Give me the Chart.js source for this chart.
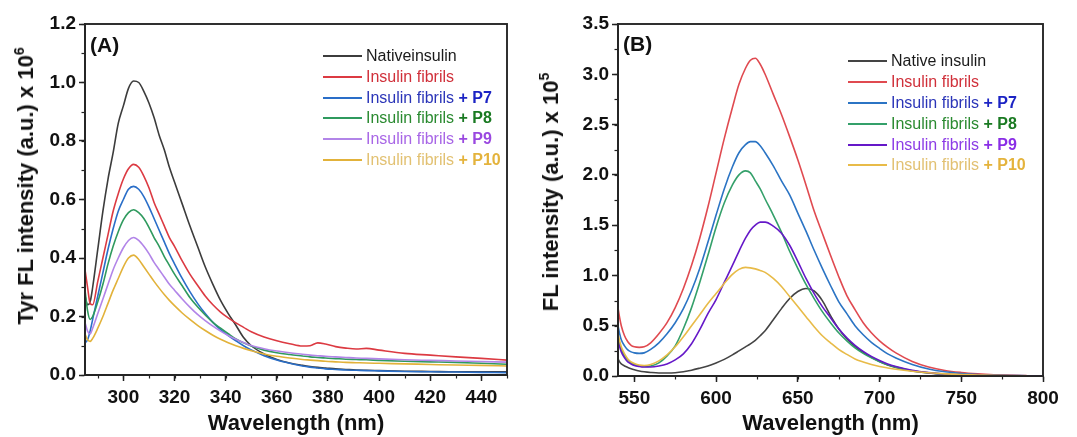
<!DOCTYPE html>
<html><head><meta charset="utf-8">
<script src="https://cdn.jsdelivr.net/npm/chart.js@4.4.1/dist/chart.umd.min.js"></script>
<style>
html,body{margin:0;padding:0;background:#fff;width:1077px;height:437px;overflow:hidden;font-family:"Liberation Sans",Arial,sans-serif;}
canvas{position:absolute;top:0;}
#cA{left:0;}
#cB{left:537px;}
.ytitle{position:absolute;font-weight:bold;font-size:22px;line-height:22px;white-space:nowrap;transform:translate(-50%,-50%) rotate(-90deg);color:#111;}
.ytitle sup{font-size:14px;line-height:0;vertical-align:9px;}
.panel{position:absolute;font-weight:bold;font-size:21px;line-height:21px;color:#111;}
.legend{position:absolute;font-size:16px;}
.legend .row{display:flex;align-items:center;white-space:nowrap;}
.legend .ln{width:39px;height:2px;margin-right:4px;}
.legend b{font-weight:bold;}
</style></head>
<body>
<canvas id="cA" width="537" height="437"></canvas>
<canvas id="cB" width="540" height="437"></canvas>
<div class="ytitle" style="left:26px;top:186px;">Tyr FL intensity (a.u.) x 10<sup>6</sup></div>
<div class="ytitle" style="left:551px;top:192px;">FL intensity (a.u.) x 10<sup>5</sup></div>
<div class="panel" style="left:90px;top:34px;">(A)</div>
<div class="panel" style="left:623px;top:33px;">(B)</div>
<div class="legend" id="legA" style="left:323px;top:46px;"></div>
<div class="legend" id="legB" style="left:848px;top:51px;"></div>
<script>
// ---------- Panel A: Tyr fluorescence ----------
const nmA = [285,286,287,288,290,292,294,296,298,300,302,304,306,308,310,312,314,316,318,320,323,326,329,332,335,338,341,344,347,350,355,360,365,370,373,376,379,383,387,391,395,400,410,420,430,440,450];
const A_native = [0.27,0.24,0.25,0.30,0.43,0.56,0.67,0.76,0.86,0.92,0.98,1.005,1.0,0.97,0.93,0.88,0.82,0.77,0.71,0.66,0.585,0.51,0.44,0.37,0.31,0.255,0.21,0.17,0.128,0.10,0.072,0.053,0.041,0.033,0.029,0.026,0.024,0.021,0.019,0.017,0.016,0.015,0.013,0.012,0.011,0.011,0.011];
const A_fibrils = [0.36,0.30,0.245,0.24,0.32,0.40,0.48,0.56,0.62,0.67,0.705,0.72,0.71,0.68,0.64,0.59,0.55,0.51,0.47,0.44,0.39,0.345,0.307,0.27,0.24,0.215,0.195,0.178,0.163,0.148,0.13,0.117,0.107,0.099,0.10,0.11,0.106,0.097,0.092,0.089,0.091,0.085,0.074,0.068,0.062,0.057,0.051];
const A_P7 = [0.11,0.12,0.15,0.19,0.27,0.35,0.43,0.50,0.56,0.60,0.635,0.645,0.635,0.61,0.575,0.535,0.495,0.455,0.415,0.38,0.33,0.285,0.245,0.21,0.18,0.155,0.135,0.117,0.1,0.086,0.066,0.051,0.04,0.031,0.027,0.024,0.021,0.019,0.017,0.016,0.015,0.014,0.012,0.011,0.01,0.009,0.008];
const A_P8 = [0.29,0.22,0.19,0.20,0.25,0.31,0.38,0.44,0.49,0.53,0.555,0.565,0.555,0.535,0.505,0.47,0.44,0.405,0.375,0.345,0.305,0.265,0.233,0.205,0.18,0.16,0.141,0.123,0.11,0.099,0.085,0.076,0.07,0.065,0.062,0.06,0.058,0.056,0.054,0.053,0.052,0.05,0.047,0.045,0.043,0.04,0.037];
const A_P9 = [0.18,0.15,0.14,0.16,0.21,0.26,0.31,0.36,0.40,0.435,0.46,0.47,0.46,0.44,0.415,0.385,0.36,0.335,0.31,0.29,0.26,0.232,0.207,0.186,0.167,0.15,0.135,0.122,0.111,0.101,0.09,0.082,0.076,0.071,0.068,0.066,0.064,0.062,0.06,0.058,0.057,0.055,0.052,0.05,0.048,0.046,0.044];
const A_P10 = [0.14,0.12,0.115,0.125,0.16,0.20,0.245,0.29,0.33,0.37,0.40,0.41,0.395,0.37,0.345,0.32,0.297,0.275,0.255,0.237,0.212,0.19,0.17,0.152,0.136,0.122,0.11,0.1,0.091,0.083,0.072,0.064,0.058,0.053,0.051,0.049,0.047,0.045,0.043,0.042,0.041,0.04,0.038,0.036,0.034,0.033,0.031];

// ---------- Panel B: dye fluorescence ----------
const nmB = [540,541,542,544,546,548,550,553,556,560,565,570,575,580,585,590,595,600,605,610,614,618,621,624,627,630,635,640,645,650,655,660,665,670,675,680,685,690,695,700,705,710,720,730,740,750,760,770,780,790,800];
const B_native = [0.17,0.14,0.12,0.10,0.085,0.072,0.062,0.05,0.042,0.035,0.03,0.03,0.033,0.043,0.058,0.078,0.10,0.13,0.165,0.21,0.25,0.29,0.32,0.355,0.40,0.45,0.56,0.67,0.77,0.84,0.87,0.845,0.75,0.60,0.47,0.37,0.295,0.235,0.185,0.145,0.11,0.085,0.05,0.03,0.018,0.012,0.008,0.005,0.003,0.002,null];
const B_fibrils = [0.68,0.58,0.50,0.40,0.34,0.305,0.29,0.285,0.29,0.33,0.42,0.53,0.68,0.87,1.10,1.37,1.68,2.02,2.36,2.67,2.90,3.06,3.14,3.16,3.10,3.00,2.80,2.60,2.38,2.15,1.90,1.64,1.42,1.20,0.99,0.80,0.66,0.53,0.43,0.35,0.285,0.23,0.145,0.09,0.055,0.035,0.022,0.013,0.007,0.004,null];
const B_P7 = [0.50,0.42,0.36,0.30,0.26,0.24,0.23,0.225,0.23,0.265,0.33,0.42,0.53,0.67,0.85,1.07,1.33,1.60,1.86,2.08,2.22,2.30,2.33,2.33,2.29,2.22,2.09,1.94,1.80,1.62,1.44,1.25,1.07,0.90,0.74,0.62,0.50,0.41,0.335,0.275,0.22,0.18,0.115,0.07,0.042,0.025,0.015,0.009,0.005,0.003,null];
const B_P8 = [0.38,0.32,0.27,0.20,0.16,0.13,0.115,0.10,0.095,0.10,0.13,0.20,0.30,0.47,0.68,0.93,1.20,1.48,1.72,1.90,2.00,2.04,2.02,1.94,1.86,1.76,1.60,1.43,1.24,1.07,0.91,0.77,0.64,0.53,0.43,0.35,0.28,0.225,0.18,0.142,0.112,0.088,0.053,0.032,0.019,0.012,0.008,0.005,0.003,0.002,null];
const B_P9 = [0.35,0.29,0.24,0.18,0.14,0.12,0.105,0.095,0.09,0.09,0.10,0.12,0.16,0.22,0.32,0.46,0.62,0.76,0.93,1.10,1.24,1.37,1.45,1.50,1.53,1.53,1.49,1.42,1.30,1.14,0.97,0.82,0.69,0.58,0.47,0.38,0.305,0.245,0.195,0.155,0.12,0.095,0.057,0.034,0.02,0.013,0.009,0.006,0.004,0.003,0.002];
const B_P10 = [0.42,0.35,0.29,0.22,0.17,0.14,0.125,0.11,0.105,0.115,0.15,0.21,0.29,0.39,0.50,0.61,0.72,0.82,0.92,1.01,1.06,1.08,1.075,1.065,1.05,1.03,0.97,0.89,0.79,0.69,0.59,0.49,0.40,0.33,0.265,0.215,0.17,0.14,0.115,0.095,0.08,0.067,0.047,0.032,0.021,0.014,0.01,0.006,0.004,0.003,null];

// ---------- labels & ticks ----------
const namesA = ['Nativeinsulin','Insulin fibrils','Insulin fibrils','Insulin fibrils','Insulin fibrils','Insulin fibrils'];
const namesB = ['Native insulin','Insulin fibrils','Insulin fibrils','Insulin fibrils','Insulin fibrils','Insulin fibrils'];
const suffixes = ['','','+ P7','+ P8','+ P9','+ P10'];
const xTitle = 'Wavelength (nm)';
const xTicksA = [300,320,340,360,380,400,420,440];
const yTicksA = [0.0,0.2,0.4,0.6,0.8,1.0,1.2];
const xTicksB = [550,600,650,700,750,800];
const yTicksB = [0.0,0.5,1.0,1.5,2.0,2.5,3.0,3.5];

const lineColA = ['#3c3c3c','#dc3a42','#2a6ec8','#2f9a5e','#b285e8','#e2b23a'];
const lineColB = ['#444444','#e04a50','#2b74c4','#34a06a','#6518c8','#e8bb48'];
const txtColA = [['#1a1a1a','#1a1a1a'],['#d0303a','#d0303a'],['#2b35b8','#1c24c4'],['#2a8a30','#1a7a22'],['#a866e6','#9a48e0'],['#e2c172','#e4b33c']];
const txtColB = [['#1a1a1a','#1a1a1a'],['#d0303a','#d0303a'],['#2b35b8','#1c24c4'],['#2a8a30','#1a7a22'],['#8c3ce6','#8a2ee6'],['#e2c172','#e4b33c']];

const FAM = '"Liberation Sans", Arial, sans-serif';

const frame = {
  id: 'frame',
  afterDraw(chart, args, o) {
    const {ctx, chartArea: a, scales} = chart;
    ctx.save();
    ctx.strokeStyle = '#222';
    ctx.lineWidth = 1.2;
    const xs = scales.x, ys = scales.y;
    const nx = Math.round((xs.max - xs.min) / o.minorX);
    for (let i = 0; i <= nx + 1; i++) {
      const v = Math.ceil(xs.min / o.minorX) * o.minorX + i * o.minorX;
      if (v > xs.max + 1e-9) break;
      const p = Math.round(xs.getPixelForValue(v)) + 0.5;
      ctx.beginPath(); ctx.moveTo(p, a.bottom); ctx.lineTo(p, a.bottom + 3.5); ctx.stroke();
    }
    const ny = Math.round((ys.max - ys.min) / o.minorY);
    for (let i = 0; i <= ny; i++) {
      const v = ys.min + i * o.minorY;
      const p = Math.round(ys.getPixelForValue(v)) + 0.5;
      ctx.beginPath(); ctx.moveTo(a.left, p); ctx.lineTo(a.left - 3.5, p); ctx.stroke();
    }
    ctx.lineWidth = 1.9;
    ctx.strokeStyle = '#262626';
    ctx.strokeRect(a.left, a.top, a.right - a.left, a.bottom - a.top);
    ctx.restore();
  }
};

function build(id, nm, series, names, cols, xr, yr, xTicks, yTicks, area, W, H, minor) {
  const datasets = series.map((vals, i) => ({
    label: (names[i] + ' ' + suffixes[i]).trim(),
    data: nm.map((x, k) => ({x: x, y: vals[k]})),
    borderColor: cols[i],
    borderWidth: 1.6,
    pointRadius: 0,
    fill: false,
    cubicInterpolationMode: 'monotone',
    spanGaps: false
  }));
  datasets.reverse();
  return new Chart(document.getElementById(id), {
    type: 'line',
    data: {datasets},
    plugins: [frame],
    options: {
      responsive: false,
      animation: false,
      devicePixelRatio: 1,
      layout: {padding: {left: 0, top: area.top, right: W - area.right, bottom: 0}},
      plugins: {legend: {display: false}, tooltip: {enabled: false}, frame: minor},
      scales: {
        x: {
          type: 'linear', min: xr[0], max: xr[1],
          afterBuildTicks: s => { s.ticks = xTicks.map(v => ({value: v})); },
          afterFit: s => { s.height = H - area.bottom; },
          grid: {drawOnChartArea: false, drawTicks: true, tickLength: 6, tickColor: '#222', tickWidth: 1.5},
          border: {display: true, color: '#262626', width: 1.9},
          ticks: {font: {family: FAM, size: 19, weight: 'bold'}, color: '#111', padding: 5, maxRotation: 0, autoSkip: false, callback: v => String(v)},
          title: {display: true, text: xTitle, font: {family: FAM, size: 22, weight: 'bold'}, color: '#111', padding: {top: 0, bottom: 0}}
        },
        y: {
          type: 'linear', min: yr[0], max: yr[1],
          afterBuildTicks: s => { s.ticks = yTicks.map(v => ({value: v})); },
          afterFit: s => { s.width = area.left; },
          grid: {drawOnChartArea: false, drawTicks: true, tickLength: 6, tickColor: '#222', tickWidth: 1.5},
          border: {display: true, color: '#262626', width: 1.9},
          ticks: {font: {family: FAM, size: 19, weight: 'bold'}, color: '#111', padding: 3, callback: v => Number(v).toFixed(1)}
        }
      }
    }
  });
}

build('cA', nmA, [A_native, A_fibrils, A_P7, A_P8, A_P9, A_P10], namesA, lineColA,
      [285, 450], [0, 1.2], xTicksA, yTicksA, {left: 85, right: 507, top: 24, bottom: 375}, 537, 437, {minorX: 10, minorY: 0.1});
build('cB', nmB, [B_native, B_fibrils, B_P7, B_P8, B_P9, B_P10], namesB, lineColB,
      [540, 800], [0, 3.5], xTicksB, yTicksB, {left: 81, right: 506, top: 24, bottom: 376}, 540, 437, {minorX: 25, minorY: 0.25});

function legend(el, names, lineCols, txtCols, rowH) {
  const box = document.getElementById(el);
  names.forEach((n, i) => {
    const r = document.createElement('div');
    r.className = 'row';
    r.style.height = rowH + 'px';
    const ln = document.createElement('span');
    ln.className = 'ln';
    ln.style.background = lineCols[i];
    r.appendChild(ln);
    const t = document.createElement('span');
    t.textContent = n;
    t.style.color = txtCols[i][0];
    r.appendChild(t);
    if (suffixes[i]) {
      const b = document.createElement('b');
      b.textContent = ' ' + suffixes[i];
      b.style.color = txtCols[i][1];
      b.style.whiteSpace = 'pre';
      r.appendChild(b);
    }
    box.appendChild(r);
  });
}
legend('legA', namesA, lineColA, txtColA, 20.7);
legend('legB', namesB, lineColB, txtColB, 20.8);
</script>
</body></html>
